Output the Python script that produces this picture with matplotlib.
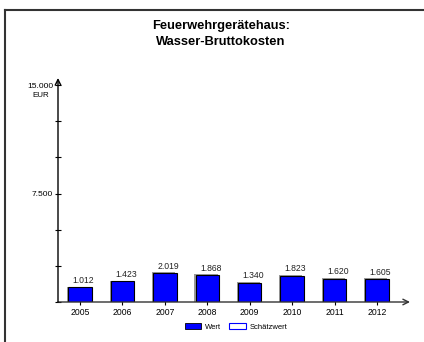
import matplotlib
matplotlib.use("Agg")
from matplotlib import pyplot as plt
from matplotlib.lines import Line2D
from matplotlib.patches import Patch

plt.rcParams['font.family'] = ['Liberation Sans', 'DejaVu Sans']

years = ["2005", "2006", "2007", "2008", "2009", "2010", "2011", "2012"]
values = [1012, 1423, 2019, 1868, 1340, 1823, 1620, 1605]
value_labels = ["1.012", "1.423", "2.019", "1.868", "1.340", "1.823", "1.620", "1.605"]
y_ticks = [0, 2500, 5000, 7500, 10000, 12500, 15000]
y_tick_labels = ["", "", "", "7.500", "", "", "15.000"]
unit = "EUR"

W, H = 424, 342
fig = plt.figure(figsize=(W / 100, H / 100), dpi=100)
ax = fig.add_axes([58 / W, 40 / H, 352 / W, 224 / H])

pos = list(range(len(years)))
# shadow bars
ax.bar([p - 0.03 for p in pos], [v + 40 for v in values], width=0.55,
       color="#9a9a9a", zorder=2)
ax.bar(pos, values, width=0.55, color="#0000ff", edgecolor="black",
       linewidth=0.8, zorder=3)
for p, v, lab in zip(pos, values, value_labels):
    ax.text(p + 0.08, v + 150, lab, ha="center", va="bottom", fontsize=6.2,
            color="#222222")

ax.set_xlim(-0.52, 7.78)
ax.set_ylim(0, 15484)
for s in ax.spines.values():
    s.set_visible(False)
ax.annotate("", xy=(1, 0), xytext=(0, 0), xycoords="axes fraction",
            arrowprops=dict(arrowstyle="->", color="#333333", lw=1.0,
                            shrinkA=0, shrinkB=0))
ax.annotate("", xy=(0, 1), xytext=(0, 0), xycoords="axes fraction",
            arrowprops=dict(arrowstyle="->", color="black", lw=1.0,
                            shrinkA=0, shrinkB=0))
ax.set_xticks(pos)
ax.set_xticklabels(years, fontsize=6.2)
ax.set_yticks(y_ticks)
ax.set_yticklabels(y_tick_labels, fontsize=6)
ax.tick_params(axis="both", direction="inout", length=5, width=0.8, pad=2)
ax.tick_params(axis="y", pad=1)
ax.text(-0.048, y_ticks[-1] - 450, unit, ha="center", va="top", fontsize=5.8,
        transform=ax.get_yaxis_transform())
ax.patch.set_visible(False)

fig.text(221 / W, 1 - 34 / H, "Feuerwehrgerätehaus:\nWasser-Bruttokosten",
         ha="center", va="center", fontsize=9.3, fontweight="bold",
         linespacing=1.35)

handles = [Patch(facecolor="#0000ff", edgecolor="black", lw=0.6),
           Patch(facecolor="white", edgecolor="#0000ff", lw=0.8)]
fig.legend(handles, ["Wert", "Schätzwert"], loc="center",
           bbox_to_anchor=(236 / W, 1 - 327 / H), ncol=2, frameon=False,
           fontsize=5.5, handlelength=2.2, handleheight=0.7,
           handletextpad=0.5, columnspacing=1.0)

# frame: top and left
fig.add_artist(Line2D([5 / W, 1], [1 - 10 / H, 1 - 10 / H],
                      transform=fig.transFigure, color="#333333", lw=1.5))
fig.add_artist(Line2D([5 / W, 5 / W], [0, 1 - 10 / H],
                      transform=fig.transFigure, color="#333333", lw=1.5))

fig.savefig("out.png", dpi=100)
